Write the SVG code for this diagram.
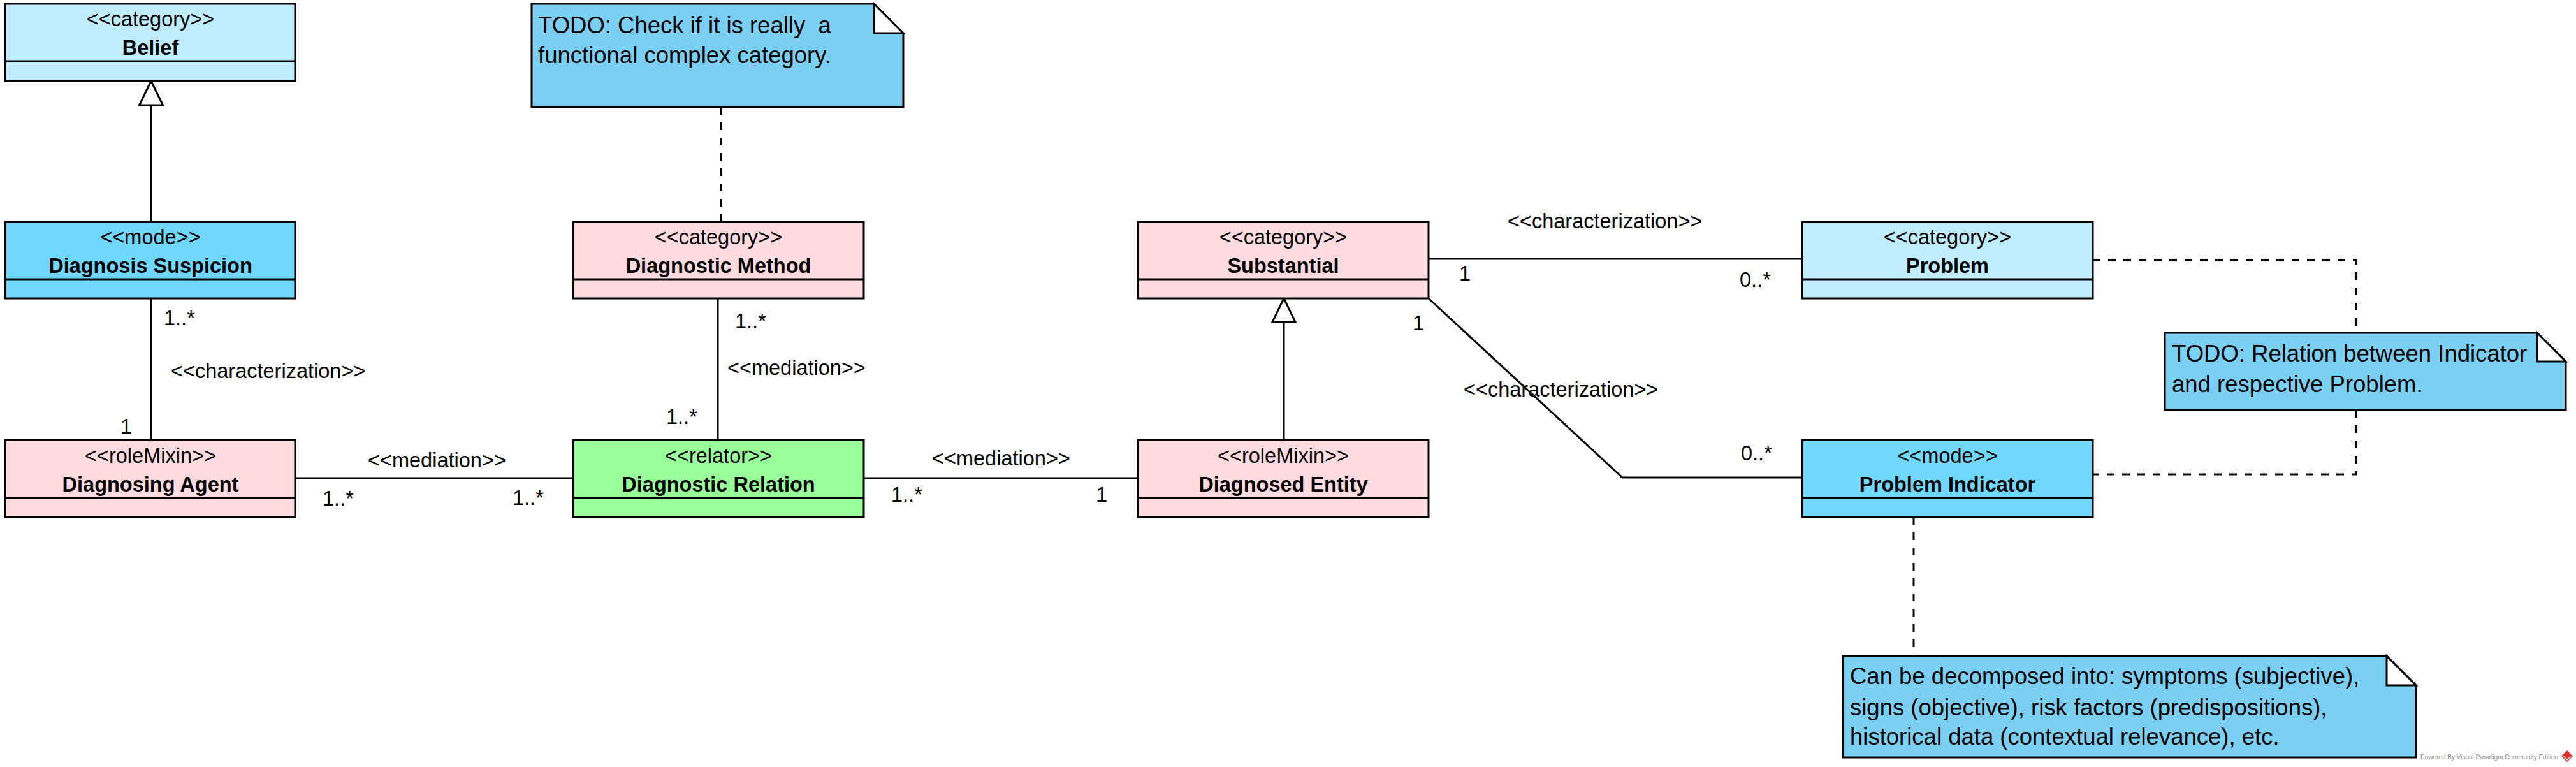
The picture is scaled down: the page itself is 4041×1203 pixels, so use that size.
<svg xmlns="http://www.w3.org/2000/svg" width="4041" height="1203" viewBox="0 0 4041 1203">
<style>
text { font-family: "Liberation Sans", Arial, sans-serif; fill: #000; }
.box { stroke: #000; stroke-width: 3; }
.sep { stroke: #000; stroke-width: 3; fill: none; }
.lightblue { fill: #C0ECFF; }
.blue { fill: #70D7FF; }
.pink { fill: #FFDADE; }
.green { fill: #99FF99; }
.note { fill: #7BCFF3; stroke: #000; stroke-width: 3; }
.fold { fill: #FFFFFF; stroke: #000; stroke-width: 3; stroke-linejoin: miter; }
.st { font-size: 32.5px; text-anchor: middle; }
.nm { font-size: 32.5px; font-weight: bold; text-anchor: middle; }
.lbl { font-size: 32.5px; }
.nt { font-size: 36.5px; }
.conn { stroke: #000; stroke-width: 3; fill: none; }
.dash { stroke-dasharray: 12 12; }
.tri { fill: #FFFFFF; stroke: #000; stroke-width: 3; stroke-linejoin: miter; }
.credit { font-size: 10px; fill: #888888; }
</style>

<g id="connectors">
  <!-- generalization Diagnosis Suspicion -> Belief -->
  <path class="conn" d="M237,348 V165"/>
  <path class="tri" d="M237,127 L218.5,165 L255.5,165 Z"/>
  <!-- generalization Diagnosed Entity -> Substantial -->
  <path class="conn" d="M2014,690 V505"/>
  <path class="tri" d="M2014,468 L1996,505 L2032,505 Z"/>
  <!-- characterization Diagnosis Suspicion - Diagnosing Agent -->
  <path class="conn" d="M237,468 V690"/>
  <text class="lbl" x="257" y="510">1..*</text>
  <text class="lbl" x="268" y="593">&lt;&lt;characterization&gt;&gt;</text>
  <text class="lbl" x="189" y="680">1</text>
  <!-- mediation Diagnosing Agent - Diagnostic Relation -->
  <path class="conn" d="M464,750 H899"/>
  <text class="lbl" x="577" y="733">&lt;&lt;mediation&gt;&gt;</text>
  <text class="lbl" x="506" y="793">1..*</text>
  <text class="lbl" x="804" y="792">1..*</text>
  <!-- mediation Diagnostic Method - Diagnostic Relation -->
  <path class="conn" d="M1126,468 V690"/>
  <text class="lbl" x="1153" y="515">1..*</text>
  <text class="lbl" x="1141" y="588">&lt;&lt;mediation&gt;&gt;</text>
  <text class="lbl" x="1045" y="665">1..*</text>
  <!-- mediation Diagnostic Relation - Diagnosed Entity -->
  <path class="conn" d="M1355,750 H1785"/>
  <text class="lbl" x="1462" y="730">&lt;&lt;mediation&gt;&gt;</text>
  <text class="lbl" x="1398" y="787">1..*</text>
  <text class="lbl" x="1719" y="787">1</text>
  <!-- characterization Substantial - Problem -->
  <path class="conn" d="M2241,406 H2827"/>
  <text class="lbl" x="2365" y="358">&lt;&lt;characterization&gt;&gt;</text>
  <text class="lbl" x="2289" y="440">1</text>
  <text class="lbl" x="2729" y="450">0..*</text>
  <!-- characterization Substantial - Problem Indicator -->
  <path class="conn" d="M2241,468 L2545,749 H2827"/>
  <text class="lbl" x="2216" y="518">1</text>
  <text class="lbl" x="2296" y="622">&lt;&lt;characterization&gt;&gt;</text>
  <text class="lbl" x="2731" y="722">0..*</text>
  <!-- note anchors -->
  <path class="conn dash" d="M1131,168 V348"/>
  <path class="conn dash" d="M3283,408 H3696 V522"/>
  <path class="conn dash" d="M3696,643 V744 H3283"/>
  <path class="conn dash" d="M3002,811 V1029"/>
</g>

<g id="belief">
  <rect class="box lightblue" x="8" y="6" width="455" height="121"/>
  <path class="sep" d="M8,96 H463"/>
  <text class="st" x="236" y="41">&lt;&lt;category&gt;&gt;</text>
  <text class="nm" x="236" y="86">Belief</text>
</g>

<g id="diagnosis-suspicion">
  <rect class="box blue" x="8" y="348" width="455" height="120"/>
  <path class="sep" d="M8,438 H463"/>
  <text class="st" x="236" y="383">&lt;&lt;mode&gt;&gt;</text>
  <text class="nm" x="236" y="428">Diagnosis Suspicion</text>
</g>

<g id="diagnosing-agent">
  <rect class="box pink" x="8" y="690" width="455" height="121"/>
  <path class="sep" d="M8,781 H463"/>
  <text class="st" x="236" y="726">&lt;&lt;roleMixin&gt;&gt;</text>
  <text class="nm" x="236" y="771">Diagnosing Agent</text>
</g>

<g id="diagnostic-method">
  <rect class="box pink" x="899" y="348" width="456" height="120"/>
  <path class="sep" d="M899,438 H1355"/>
  <text class="st" x="1127" y="383">&lt;&lt;category&gt;&gt;</text>
  <text class="nm" x="1127" y="428">Diagnostic Method</text>
</g>

<g id="diagnostic-relation">
  <rect class="box green" x="899" y="690" width="456" height="121"/>
  <path class="sep" d="M899,781 H1355"/>
  <text class="st" x="1127" y="726">&lt;&lt;relator&gt;&gt;</text>
  <text class="nm" x="1127" y="771">Diagnostic Relation</text>
</g>

<g id="substantial">
  <rect class="box pink" x="1785" y="348" width="456" height="120"/>
  <path class="sep" d="M1785,438 H2241"/>
  <text class="st" x="2013" y="383">&lt;&lt;category&gt;&gt;</text>
  <text class="nm" x="2013" y="428">Substantial</text>
</g>

<g id="diagnosed-entity">
  <rect class="box pink" x="1785" y="690" width="456" height="121"/>
  <path class="sep" d="M1785,781 H2241"/>
  <text class="st" x="2013" y="726">&lt;&lt;roleMixin&gt;&gt;</text>
  <text class="nm" x="2013" y="771">Diagnosed Entity</text>
</g>

<g id="problem">
  <rect class="box lightblue" x="2827" y="348" width="456" height="120"/>
  <path class="sep" d="M2827,438 H3283"/>
  <text class="st" x="3055" y="383">&lt;&lt;category&gt;&gt;</text>
  <text class="nm" x="3055" y="428">Problem</text>
</g>

<g id="problem-indicator">
  <rect class="box blue" x="2827" y="690" width="456" height="121"/>
  <path class="sep" d="M2827,781 H3283"/>
  <text class="st" x="3055" y="726">&lt;&lt;mode&gt;&gt;</text>
  <text class="nm" x="3055" y="771">Problem Indicator</text>
</g>

<g id="note-method">
  <path class="note" d="M834,6 H1371 L1417,52 V168 H834 Z"/>
  <path class="fold" d="M1371,6 V52 H1417 Z"/>
  <text class="nt" x="844" y="52" xml:space="preserve">TODO: Check if it is really  a</text>
  <text class="nt" x="844" y="99">functional complex category.</text>
</g>

<g id="note-problem">
  <path class="note" d="M3396,522 H3980 L4025,567 V643 H3396 Z"/>
  <path class="fold" d="M3980,522 V567 H4025 Z"/>
  <text class="nt" x="3407" y="567">TODO: Relation between Indicator</text>
  <text class="nt" x="3407" y="615">and respective Problem.</text>
</g>

<g id="note-indicator">
  <path class="note" d="M2891,1029 H3744 L3790,1075 V1188 H2891 Z"/>
  <path class="fold" d="M3744,1029 V1075 H3790 Z"/>
  <text class="nt" x="2902" y="1073">Can be decomposed into: symptoms (subjective),</text>
  <text class="nt" x="2902" y="1122">signs (objective), risk factors (predispositions),</text>
  <text class="nt" x="2902" y="1168">historical data (contextual relevance), etc.</text>
</g>

<g id="credit">
  <text class="credit" x="3797" y="1191">Powered By Visual Paradigm Community Edition</text>
  <path d="M4027,1177 L4036,1186 L4027,1195 L4018,1186 Z" fill="#D9322E"/>
  <path d="M4021,1186 L4027,1192 L4033,1186" fill="none" stroke="#FFFFFF" stroke-width="1.2"/>
</g>
</svg>
